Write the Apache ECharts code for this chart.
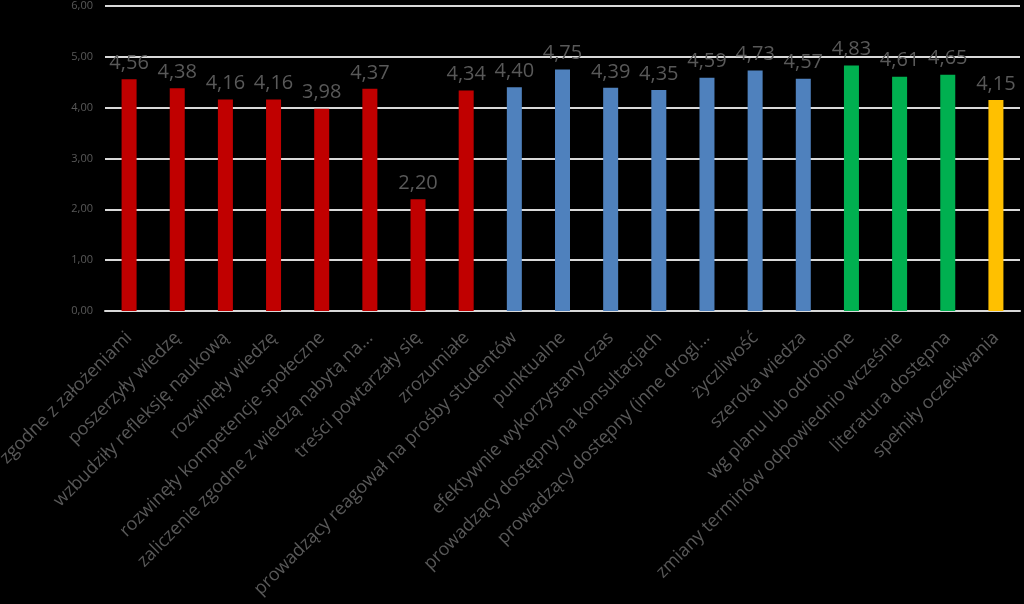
<!DOCTYPE html>
<html>
<head>
<meta charset="utf-8">
<script src="https://cdn.jsdelivr.net/npm/echarts@6/dist/echarts.min.js"></script>
<style>
html,body{margin:0;padding:0;background:#000;}
#c{width:1024px;height:604px;}
</style>
</head>
<body>
<div id="c"></div>
<script>
var categories = [
  "zgodne z założeniami",
  "poszerzyły wiedzę",
  "wzbudziły refleksję naukową",
  "rozwinęły wiedzę",
  "rozwinęły kompetencje społeczne",
  "zaliczenie zgodne z wiedzą nabytą na...",
  "treści powtarzały się",
  "zrozumiałe",
  "prowadzący reagował na prośby studentów",
  "punktualne",
  "efektywnie wykorzystany czas",
  "prowadzący dostępny na konsultacjach",
  "prowadzący dostępny (inne drogi...",
  "życzliwość",
  "szeroka wiedza",
  "wg planu lub odrobione",
  "zmiany terminów odpowiednio wcześnie",
  "literatura dostępna",
  "spełniły oczekiwania"
];
var values = [4.56, 4.38, 4.16, 4.16, 3.98, 4.37, 2.20, 4.34, 4.40, 4.75, 4.39, 4.35, 4.59, 4.73, 4.57, 4.83, 4.61, 4.65, 4.15];
var groups = ["red","red","red","red","red","red","red","red","blue","blue","blue","blue","blue","blue","blue","green","green","green","yellow"];
var groupColors = {red:"#C00000", blue:"#4F81BD", green:"#00B050", yellow:"#FFC000"};
var yTicks = [0, 1, 2, 3, 4, 5, 6];

var chart = echarts.init(document.getElementById('c'));
chart.setOption({
  backgroundColor: '#000000',
  animation: false,
  grid: {left: 105, right: 4, top: 6, bottom: 293, containLabel: false, outerBoundsMode: 'none'},
  xAxis: {
    type: 'category',
    data: categories,
    axisLine: {show: true, lineStyle: {color: '#d9d9d9', width: 2}},
    axisTick: {show: false},
    axisLabel: {
      interval: 0, rotate: 45, margin: 24,
      color: '#595959', fontFamily: 'Open Sans', fontSize: 18
    }
  },
  yAxis: {
    type: 'value',
    min: yTicks[0], max: yTicks[yTicks.length-1], interval: 1,
    axisLine: {show: false},
    axisTick: {show: false},
    splitLine: {lineStyle: {color: '#d9d9d9', width: 2}},
    axisLabel: {
      color: '#595959', fontFamily: 'Open Sans', fontSize: 11, margin: 12,
      formatter: function(v){ return v.toFixed(2).replace('.', ','); }
    }
  },
  series: [{
    type: 'bar',
    barWidth: 15,
    data: values.map(function(v, i){ return {value: v, itemStyle: {color: groupColors[groups[i]]}}; }),
    label: {
      show: true, position: 'top', distance: 6,
      color: '#595959', fontFamily: 'Open Sans', fontSize: 20,
      formatter: function(p){ return p.value.toFixed(2).replace('.', ','); }
    }
  }]
});
</script>
</body>
</html>
